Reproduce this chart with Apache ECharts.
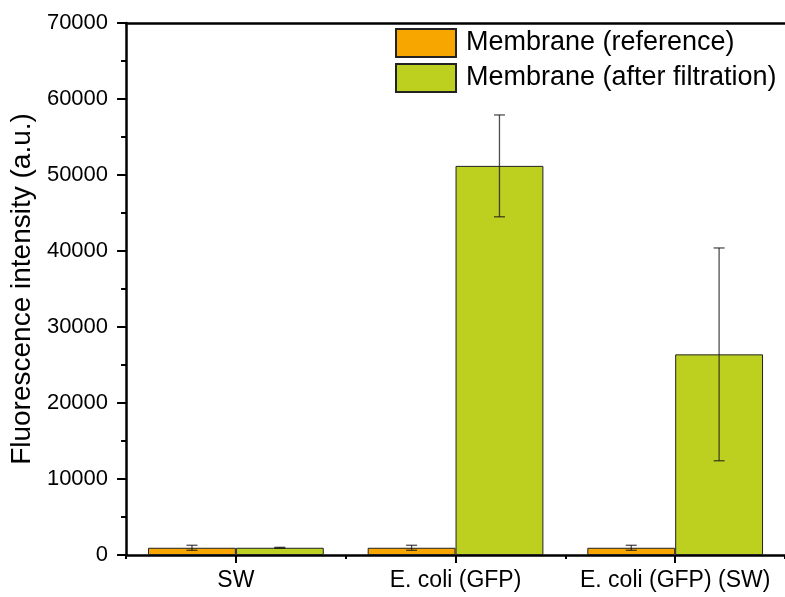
<!DOCTYPE html>
<html>
<head>
<meta charset="utf-8">
<script src="https://cdn.jsdelivr.net/npm/echarts@6/dist/echarts.min.js"></script>
<style>
  html, body { margin: 0; padding: 0; background: #fff; }
  #chart { width: 785px; height: 597px; }
</style>
</head>
<body>
<div id="chart"></div>
<script>
// Sample groups along the x axis
const categories = ['SW', 'E. coli (GFP)', 'E. coli (GFP) (SW)'];
const seriesNames = ['Membrane (reference)', 'Membrane (after filtration)'];

// Mean fluorescence intensity (a.u.)
const referenceValues = [950, 950, 950];
const filtrationValues = [950, 51200, 26400];

// Standard deviations
const referenceErrors = [330, 330, 330];
const filtrationErrors = [60, 6700, 14000];

// Y axis ticks
const yMin = 0, yMax = 70000, yStep = 10000;

const FONT = 'Liberation Sans, Arial, sans-serif';
const colors = ['#f7a600', '#bdd020'];

// Error bar renderer: vertical whisker with caps, positioned within its bar slot
function errorBarSeries(values, errors, seriesIndex) {
  return {
    type: 'custom',
    name: seriesNames[seriesIndex] + ' error',
    z: 10,
    silent: true,
    data: values.map((v, i) => [i, v - errors[i], v + errors[i]]),
    renderItem(params, api) {
      const cat = api.value(0);
      const lo = api.coord([cat, api.value(1)]);
      const hi = api.coord([cat, api.value(2)]);
      const bandW = api.size([1, 0])[0];
      const barW = bandW * 0.8 / 2;
      const x = lo[0] + (seriesIndex === 0 ? -barW / 2 : barW / 2);
      const cap = 5.5;
      const style = { stroke: 'rgba(20,20,20,0.75)', lineWidth: 1.3, fill: null };
      return {
        type: 'group',
        children: [
          { type: 'line', shape: { x1: x, y1: lo[1], x2: x, y2: hi[1] }, style },
          { type: 'line', shape: { x1: x - cap, y1: lo[1], x2: x + cap, y2: lo[1] }, style },
          { type: 'line', shape: { x1: x - cap, y1: hi[1], x2: x + cap, y2: hi[1] }, style }
        ]
      };
    }
  };
}

const chart = echarts.init(document.getElementById('chart'), null, { renderer: 'canvas' });

chart.setOption({
  animation: false,
  backgroundColor: '#fff',
  textStyle: { fontFamily: FONT },
  grid: { left: 125, top: 23, width: 662, height: 532, containLabel: false },
  legend: {
    data: seriesNames,
    orient: 'vertical',
    left: 395,
    top: 28,
    padding: 0,
    itemWidth: 60,
    itemHeight: 28,
    itemGap: 5,
    textStyle: { fontSize: 27, color: '#000', fontFamily: FONT, padding: [0, 0, 0, 5] },
    icon: 'rect'
  },
  xAxis: [
    {
      type: 'category',
      data: categories,
      position: 'bottom',
      axisLine: { lineStyle: { color: '#000', width: 2.5 } },
      axisTick: { show: true, alignWithLabel: true, length: 8, lineStyle: { color: '#000', width: 2 } },
      axisLabel: { interval: 0, hideOverlap: false, fontSize: 23, color: '#000', margin: 14, fontFamily: FONT },
      splitLine: { show: false }
    },
    {
      type: 'category',
      data: categories,
      position: 'top',
      axisLine: { lineStyle: { color: '#000', width: 2.5 } },
      axisTick: { show: false },
      axisLabel: { show: false }
    },
    {
      // boundary ticks between groups
      type: 'value',
      min: 0, max: 3, interval: 1,
      position: 'bottom',
      axisLine: { show: false },
      axisTick: { show: true, length: 4, lineStyle: { color: '#000', width: 2 } },
      axisLabel: { show: false },
      splitLine: { show: false }
    }
  ],
  yAxis: {
    type: 'value',
    min: yMin, max: yMax, interval: yStep,
    name: 'Fluorescence intensity (a.u.)',
    nameLocation: 'middle',
    nameGap: 88,
    nameTextStyle: { fontSize: 28, color: '#000', fontFamily: FONT },
    axisLine: { show: true, lineStyle: { color: '#000', width: 2.5 } },
    axisTick: { show: true, length: 9, lineStyle: { color: '#000', width: 2 } },
    minorTick: { show: true, splitNumber: 2, length: 5, lineStyle: { color: '#000', width: 2 } },
    axisLabel: {
      fontSize: 22, color: '#000', margin: 18, fontFamily: FONT,
      formatter: v => String(v)
    },
    splitLine: { show: false }
  },
  series: [
    {
      name: seriesNames[0],
      type: 'bar',
      data: referenceValues,
      barGap: '0%',
      barCategoryGap: '20%',
      itemStyle: { color: colors[0], borderColor: '#222', borderWidth: 1 }
    },
    {
      name: seriesNames[1],
      type: 'bar',
      data: filtrationValues,
      barGap: '0%',
      barCategoryGap: '20%',
      itemStyle: { color: colors[1], borderColor: '#222', borderWidth: 1 }
    },
    errorBarSeries(referenceValues, referenceErrors, 0),
    errorBarSeries(filtrationValues, filtrationErrors, 1)
  ]
});
</script>
</body>
</html>
